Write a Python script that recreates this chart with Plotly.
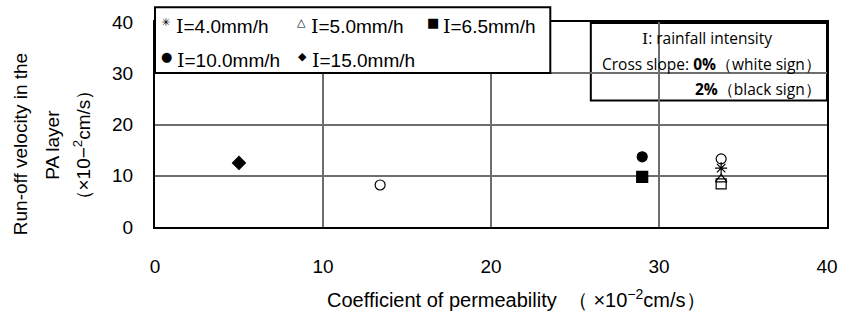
import plotly.graph_objects as go

# ---- data ----
x_i4 = [33.7]
y_i4 = [11.5]
x_i5 = [33.7]
y_i5 = [9.3]
x_i65_white = [33.7]
y_i65_white = [8.4]
x_i65_black = [29.0]
y_i65_black = [9.8]
x_i10_white = [13.4, 33.7]
y_i10_white = [8.2, 13.3]
x_i10_black = [29.0]
y_i10_black = [13.7]
x_i15_black = [5.0]
y_i15_black = [12.5]

x_ticks = [0, 10, 20, 30, 40]
y_ticks = [0, 10, 20, 30, 40]
legend_labels = ["=4.0mm/h", "=5.0mm/h", "=6.5mm/h", "=10.0mm/h", "=15.0mm/h"]
legend_glyphs = ["\u2733", "\u25b3", "\u25a0", "\u25cf", "\u25c6"]

FONT = "Liberation Sans"
SERIF_I = "<span style=\"font-family:'DejaVu Serif'\">I</span>"
note_lines = [SERIF_I + ": rainfall intensity",
              "Cross slope: <b>0%</b>\uff08white sign\uff09",
              "<b>2%</b>\uff08black sign\uff09"]

fig = go.Figure()

def add(xs, ys, symbol, size=10, lw=1.2):
    fig.add_trace(go.Scatter(
        x=xs, y=ys, mode="markers", showlegend=False, cliponaxis=False, hoverinfo="skip",
        marker=dict(symbol=symbol, size=size, color="black",
                    line=dict(color="black", width=lw))))

add(x_i4, y_i4, "asterisk-open", 10, 1.2)
add(x_i5, y_i5, "triangle-up-open", 10)
add(x_i65_white, y_i65_white, "square-open", 10)
add(x_i65_black, y_i65_black, "square", 11)
add(x_i10_white, y_i10_white, "circle-open", 10)
add(x_i10_black, y_i10_black, "circle", 10)
add(x_i15_black, y_i15_black, "diamond", 10)

W, H = 850, 322
L, R, T, B = 155, 15, 18, 95
pw, ph = W - L - R, H - T - B

def px(xp):
    return (xp - L) / pw

def py(yp):
    return (H - B - yp) / ph

annotations = []
# y-axis title (three lines)
for xpos, txt in [(19, "Run-off velocity in the"), (51, "PA layer"), (81, "\uff08\u00d710\u2212<sup>2</sup>cm/s\uff09")]:
    annotations.append(dict(x=px(xpos), y=py(143), xref="paper", yref="paper", text=txt,
                            textangle=-90, showarrow=False, xanchor="center", yanchor="middle",
                            font=dict(family=FONT, size=19, color="black")))
# x-axis title
annotations.append(dict(x=px(521), y=py(300), xref="paper", yref="paper",
                        text="Coefficient of permeability \u00a0\uff08 \u00d710<sup>\u22122</sup>cm/s\uff09",
                        showarrow=False, xanchor="center", yanchor="middle",
                        font=dict(family=FONT, size=20, color="black")))

# legend box entries
pos = [(166, 21), (303, 21), (436, 21), (167, 56), (304, 56)]
gsize = [11, 11, 13, 13, 11]
for (gx, gy), g, lab, gs in zip(pos, legend_glyphs, legend_labels, gsize):
    annotations.append(dict(x=px(gx), y=py(gy - 3), xref="paper", yref="paper", text=g,
                            showarrow=False, xanchor="center", yanchor="middle",
                            font=dict(family="DejaVu Sans", size=gs, color="black")))
    annotations.append(dict(x=px(gx + 8), y=py(gy + 1), xref="paper", yref="paper",
                            text=SERIF_I + lab,
                            showarrow=False, xanchor="left", yanchor="middle",
                            font=dict(family=FONT, size=19, color="black")))

# note box
annotations.append(dict(x=px(714), y=py(34), xref="paper", yref="paper", text=note_lines[0],
                        showarrow=False, xanchor="center", yanchor="middle",
                        font=dict(family="Open Sans", size=15.5, color="black")))
annotations.append(dict(x=px(831), y=py(61), xref="paper", yref="paper", text=note_lines[1],
                        showarrow=False, xanchor="right", yanchor="middle",
                        font=dict(family="Open Sans", size=15.5, color="black")))
annotations.append(dict(x=px(831), y=py(86), xref="paper", yref="paper", text=note_lines[2],
                        showarrow=False, xanchor="right", yanchor="middle",
                        font=dict(family="Open Sans", size=15.5, color="black")))

shapes = [
    dict(type="rect", xref="paper", yref="paper", x0=px(155), x1=px(555), y0=py(3), y1=py(70),
         line=dict(color="black", width=2), fillcolor="white", layer="above"),
    dict(type="rect", xref="paper", yref="paper", x0=px(596), x1=px(835), y0=py(19), y1=py(98),
         line=dict(color="black", width=2), fillcolor="white", layer="below"),
]

fig.update_layout(
    width=W, height=H, margin=dict(l=L, r=R, t=T, b=B, pad=0),
    paper_bgcolor="white", plot_bgcolor="white", hovermode=False,
    annotations=annotations, shapes=shapes,
    xaxis=dict(range=[0, 40], tickvals=x_ticks, showgrid=True, gridcolor="#6e6e6e", gridwidth=1.5,
               showline=True, linecolor="black", linewidth=2, mirror=True, zeroline=False,
               ticks="", ticklabelstandoff=21, fixedrange=True,
               tickfont=dict(family=FONT, size=19, color="black")),
    yaxis=dict(range=[0, 40], tickvals=y_ticks, showgrid=True, gridcolor="#6e6e6e", gridwidth=1.5,
               showline=True, linecolor="black", linewidth=2, mirror=True, zeroline=False,
               ticks="", ticklabelstandoff=16, fixedrange=True,
               tickfont=dict(family=FONT, size=19, color="black")),
)

fig.write_html("out.html", config={"displayModeBar": False},
               post_script="document.body.style.margin='0';document.body.style.overflow='hidden';")
